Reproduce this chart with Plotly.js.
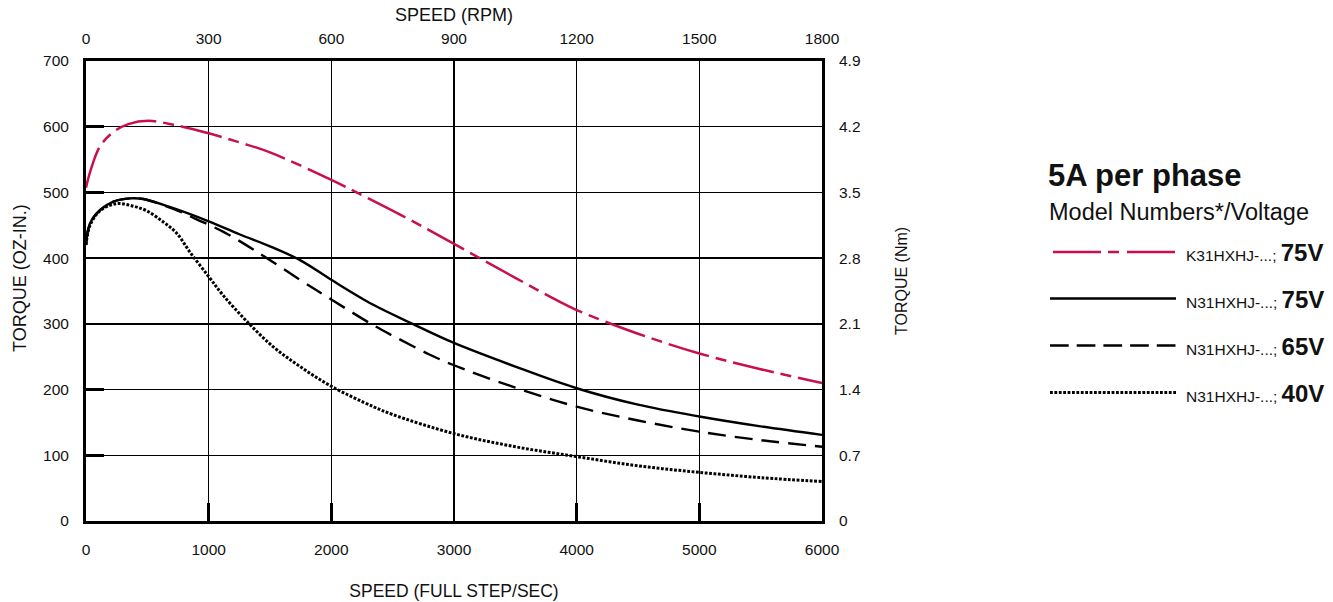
<!DOCTYPE html>
<html>
<head>
<meta charset="utf-8">
<script src="https://cdn.plot.ly/plotly-3.0.1.min.js"></script>
<style>html,body{margin:0;padding:0;background:#fff;}#chart{width:1333px;height:602px;}</style>
</head>
<body>
<div id="chart"></div>
<script>
// ---- data (speed in full steps/sec, torque in oz-in) ----
const speedK75 = [0, 33, 114, 223, 345, 508, 712, 1000, 1255, 1500, 2000, 2206, 2614, 2967, 3500, 3837, 4000, 4500, 5000, 5500, 6000];
const torqueK75 = [507, 531, 570, 592, 604, 609, 603, 590, 576, 561, 519, 500, 461, 425, 370, 336, 321, 285, 255, 231, 210];

const speedN75 = [0, 33, 114, 223, 359, 467, 712, 1000, 1255, 1500, 1745, 2000, 2342, 2663, 3000, 3500, 4000, 4500, 5000, 5500, 6000];
const torqueN75 = [420, 453, 473, 486, 491, 490, 476, 456, 436, 418, 397, 367, 329, 300, 271, 235, 202, 177, 159, 144, 131];

const speedN65 = [0, 33, 114, 223, 359, 467, 712, 902, 1120, 1391, 1745, 2000, 2342, 2500, 2804, 3000, 3500, 4000, 4500, 5000, 5500, 6000];
const torqueN65 = [420, 453, 473, 486, 491, 490, 475, 459, 440, 410, 367, 337, 298, 282, 253, 237, 203, 174, 153, 136, 123, 113];

const speedN40 = [0, 33, 114, 250, 386, 495, 630, 739, 848, 1000, 1120, 1310, 1527, 1745, 2000, 2342, 2500, 3000, 3500, 4000, 4500, 5000, 5500, 6000];
const torqueN40 = [420, 450, 472, 483, 479, 472, 455, 438, 409, 372, 343, 304, 265, 235, 205, 174, 162, 133, 113, 98, 84, 74, 66, 60];

const rpmTicks = [0, 300, 600, 900, 1200, 1500, 1800];
const nmTickVals = [0, 0.7, 1.4, 2.1, 2.8, 3.5, 4.2, 4.9];
const nmTickText = ['0', '0.7', '1.4', '2.1', '2.8', '3.5', '4.2', '4.9'];

const legendModels = ['K31HXHJ-...;', 'N31HXHJ-...;', 'N31HXHJ-...;', 'N31HXHJ-...;'];
const legendVolts = ['75V', '75V', '65V', '40V'];

// ---- styling ----
const RED = '#c8104e';
const SANS = '"Liberation Sans", Arial, Helvetica, sans-serif';
const W = 1333, H = 602;
const L = 86, R = 822, T = 61, B = 521;
const px = x => (x - L) / (R - L);
const py = y => (B - y) / (B - T);

const styles = [
  {color: RED, width: 2.5, dash: '42px,7px,11px,7px', legDash: '48px,7px,11px,8px'},
  {color: '#000', width: 2.4, dash: 'solid', legDash: 'solid'},
  {color: '#000', width: 2.4, dash: '18px,9px', legDash: '18.7px,8px'},
  {color: '#000', width: 3.0, dash: '2.8px,1.6px', legDash: '2.8px,1.6px'}
];
const series = [[speedK75, torqueK75], [speedN75, torqueN75], [speedN65, torqueN65], [speedN40, torqueN40]];

const traces = series.map((s, i) => ({
  x: s[0], y: s[1], type: 'scatter', mode: 'lines',
  name: legendModels[i] + ' ' + legendVolts[i],
  line: {color: styles[i].color, width: styles[i].width, dash: styles[i].dash, shape: 'spline', smoothing: 1},
  hoverinfo: 'skip', showlegend: false
}));
traces.push({x: [], y: [], xaxis: 'x2', yaxis: 'y2', type: 'scatter', mode: 'lines', showlegend: false, hoverinfo: 'skip'});

const tickFont = {family: SANS, size: 15.5, color: '#111'};

const legRows = [252, 298.5, 345.5, 392.5];
const shapes = legRows.map((y, i) => ({
  type: 'line', xref: 'paper', yref: 'paper',
  x0: px(i === 0 ? 1053 : 1050), x1: px(1176), y0: py(y), y1: py(y),
  line: {color: styles[i].color, width: i === 3 ? 3 : 2.5, dash: styles[i].legDash}
}));

const annotations = [
  {text: '<b>5A per phase</b>', x: px(1046), y: py(175), xanchor: 'left', yanchor: 'middle',
   font: {family: SANS, size: 31, color: '#111'}},
  {text: 'Model Numbers*/Voltage', x: px(1047), y: py(212), xanchor: 'left', yanchor: 'middle',
   font: {family: SANS, size: 23.5, color: '#111'}},
  {text: 'TORQUE (OZ-IN.)', x: px(20), y: py(278), xanchor: 'center', yanchor: 'middle', textangle: -90,
   font: {family: SANS, size: 18, color: '#111'}},
  {text: 'TORQUE (Nm)', x: px(901), y: py(281), xanchor: 'center', yanchor: 'middle', textangle: -90,
   font: {family: SANS, size: 16, color: '#111'}}
];
legRows.forEach((y, i) => {
  annotations.push({
    text: legendModels[i] + ' <b><span style="font-size:24px">' + legendVolts[i] + '</span></b>',
    x: px(1184), y: py(y + 0.5), xanchor: 'left', yanchor: 'middle',
    font: {family: SANS, size: 15.5, color: '#111'}
  });
});
annotations.forEach(a => { a.xref = 'paper'; a.yref = 'paper'; a.showarrow = false; });

const layout = {
  width: W, height: H,
  margin: {l: L, r: W - R, t: T, b: H - B, pad: 0},
  paper_bgcolor: '#fff', plot_bgcolor: '#fff',
  showlegend: false,
  xaxis: {
    range: [0, 6000], dtick: 1000, tick0: 0,
    showgrid: true, gridcolor: '#000', gridwidth: 1.3,
    ticks: 'inside', ticklen: 18, tickwidth: 2.6, tickcolor: '#000',
    showline: true, linecolor: '#000', linewidth: 3, mirror: true,
    zeroline: false, tickfont: tickFont, ticklabelstandoff: 12,
    title: {text: 'SPEED (FULL STEP/SEC)', font: {family: SANS, size: 17.5, color: '#111'}, standoff: 29}
  },
  yaxis: {
    range: [0, 700], dtick: 100, tick0: 0,
    showgrid: true, gridcolor: '#000', gridwidth: 1.3,
    ticks: 'inside', ticklen: 18, tickwidth: 2.6, tickcolor: '#000',
    showline: true, linecolor: '#000', linewidth: 3, mirror: true,
    zeroline: false, tickfont: tickFont, ticklabelstandoff: 11
  },
  xaxis2: {
    overlaying: 'x', side: 'top', anchor: 'y', range: [0, 1800],
    tickmode: 'array', tickvals: rpmTicks,
    showgrid: false, ticks: '', showline: false, zeroline: false,
    tickfont: tickFont, ticklabelstandoff: 13,
    title: {text: 'SPEED (RPM)', font: {family: SANS, size: 18, color: '#111'}, standoff: 3}
  },
  yaxis2: {
    overlaying: 'y', side: 'right', anchor: 'x', range: [0, 4.9],
    tickmode: 'array', tickvals: nmTickVals, ticktext: nmTickText,
    showgrid: false, ticks: '', showline: false, zeroline: false,
    tickfont: tickFont, ticklabelstandoff: 16
  },
  shapes: shapes,
  annotations: annotations
};

Plotly.newPlot('chart', traces, layout, {staticPlot: true, displayModeBar: false});
</script>
</body>
</html>
